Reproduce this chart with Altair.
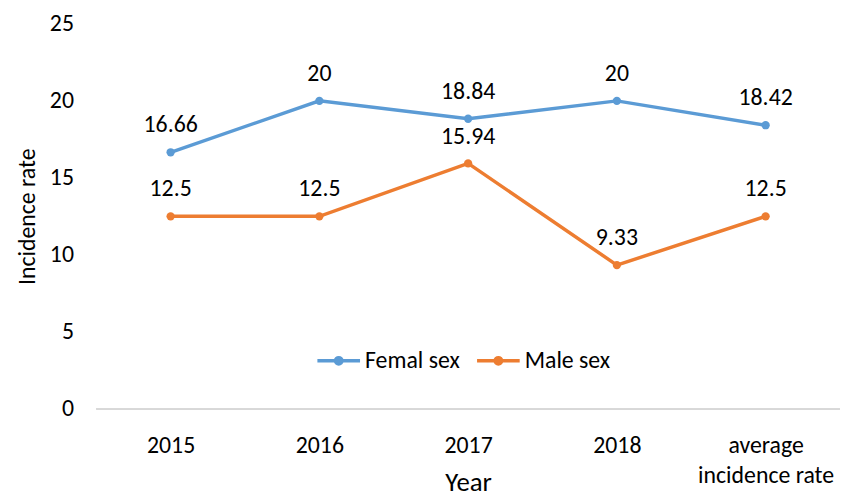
import altair as alt
import pandas as pd

categories = ["2015", "2016", "2017", "2018", "average incidence rate"]
female = [16.66, 20, 18.84, 20, 18.42]
male = [12.5, 12.5, 15.94, 9.33, 12.5]
series_names = ["Femal sex", "Male sex"]
colors = ["#5B9BD5", "#ED7D31"]

rows = []
for c, f, m in zip(categories, female, male):
    rows.append({"Year": c, "value": f, "series": series_names[0]})
    rows.append({"Year": c, "value": m, "series": series_names[1]})
df = pd.DataFrame(rows)

FONT = "Carlito, Lato, sans-serif"

x = alt.X("Year:N", sort=categories, title="Year",
          scale=alt.Scale(paddingInner=0, paddingOuter=0.5),
          axis=alt.Axis(labelAngle=0, labelFontSize=24, titleFontSize=27, labelFont=FONT,
                        titleFont=FONT, titleFontWeight="normal", ticks=False, domain=False,
                        labelPadding=25, labelColor="#000", titleColor="#000",
                        labelLineHeight=30, titleY=83, titleBaseline="alphabetic",
                        labelExpr="datum.value == 'average incidence rate' ? ['average', 'incidence rate'] : datum.value"))
y = alt.Y("value:Q", title="Incidence rate",
          scale=alt.Scale(domain=[0, 25], nice=False),
          axis=alt.Axis(values=[0, 5, 10, 15, 20, 25], grid=False, ticks=False, domain=False,
                        labelFontSize=24, labelFont=FONT, titleFont=FONT, titleFontSize=24,
                        titleFontWeight="normal", labelPadding=23, titlePadding=10,
                        labelColor="#000", titleColor="#000"))
color = alt.Color("series:N", sort=series_names,
                  scale=alt.Scale(domain=series_names, range=colors),
                  legend=alt.Legend(title=None, orient="none", legendX=221, legendY=316,
                                    direction="horizontal", labelFontSize=24, labelFont=FONT,
                                    labelColor="#000", symbolSize=1849, symbolStrokeWidth=3.5,
                                    columnPadding=10, labelOffset=3, padding=0,
                                    symbolType="M-1,0H1M0.15,0A0.15,0.15,0,1,1,-0.15,0A0.15,0.15,0,1,1,0.15,0Z"))

base = alt.Chart(df)
baseline = base.mark_rule(color="#d9d9d9", strokeWidth=1).encode(y=alt.datum(0))
lines = base.mark_line(strokeWidth=3.5, point=alt.OverlayMarkDef(filled=True, size=70)).encode(
    x=x, y=y, color=color)
labels = base.mark_text(dy=-27, fontSize=24, font=FONT, color="#000").encode(
    x=alt.X("Year:N", sort=categories), y="value:Q", text=alt.Text("value:Q", format="~g"))

chart = alt.layer(baseline, lines, labels).properties(
    width=750, height=388,
    autosize=alt.AutoSizeParams(type="none"),
    padding={"left": 89, "top": 14, "right": 0, "bottom": 89},
).configure_view(stroke=None)

chart.save("out.html", embed_options={"renderer": "svg", "actions": False})
